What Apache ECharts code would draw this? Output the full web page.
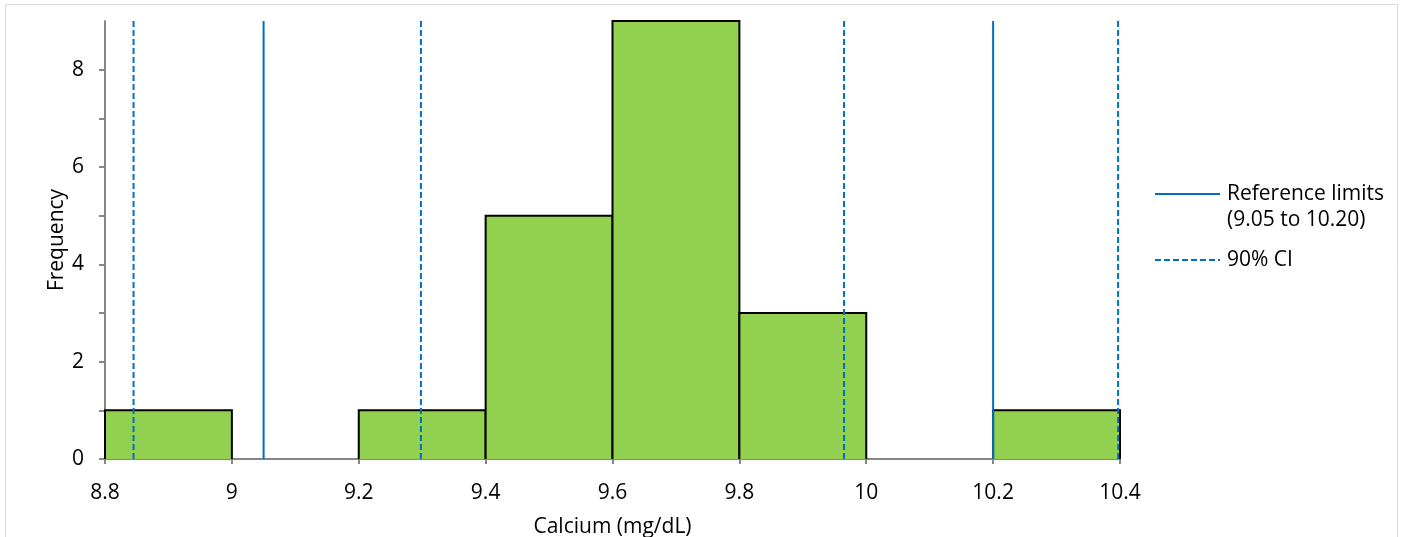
<!DOCTYPE html>
<html><head><meta charset="utf-8">
<script src="https://cdn.jsdelivr.net/npm/echarts@6/dist/echarts.min.js"></script>
<style>html,body{margin:0;padding:0;background:#fff}#c{width:1404px;height:537px}</style>
</head><body><div id="c"></div>
<script>
const binStarts = [8.8, 9.0, 9.2, 9.4, 9.6, 9.8, 10.0, 10.2];
const binWidth = 0.2;
const counts = [1, 0, 1, 5, 9, 3, 0, 1];
const refLimits = [9.05, 10.20];
const ciLimits = [8.845, 9.298, 9.965, 10.397];
const xTicks = [8.8, 9, 9.2, 9.4, 9.6, 9.8, 10, 10.2, 10.4];
const yTicks = [0, 2, 4, 6, 8];
const yMax = 9;
const refName = 'Reference limits (9.05 to 10.20)';
const ciName = '90% CI';

const FONT = '"Open Sans", sans-serif';
const FS = 21;
const blue = '#0070c0';
const axisGray = '#868686';

function vlines(xs) {
  const d = [];
  xs.forEach((x, i) => {
    if (i > 0) d.push([x, '-']);
    d.push([x, 0]); d.push([x, yMax]);
  });
  return d;
}

const chart = echarts.init(document.getElementById('c'), null, {renderer: 'canvas'});
chart.setOption({
  animation: false,
  backgroundColor: '#fff',
  graphic: [{type: 'rect', shape: {x: 5.5, y: 4.5, width: 1392, height: 540}, style: {fill: 'none', stroke: '#d9d9d9', lineWidth: 1}, silent: true, z: -1}],
  grid: {left: 105, right: 284, top: 21, bottom: 78, outerBoundsMode: 'none', containLabel: false},
  legend: {
    orient: 'vertical', left: 1149, top: 150, itemWidth: 65, itemHeight: 14, itemGap: 14,
    itemStyle: {opacity: 0},
    textStyle: {fontFamily: FONT, fontSize: FS, color: '#000', lineHeight: 26, padding: [0, 0, 0, 2]},
    formatter: function (name) {
      return name === refName ? ' \nReference limits\n(9.05 to 10.20)' : name;
    },
    data: [refName, ciName]
  },
  xAxis: {
    type: 'value', min: 8.8, max: 10.4, interval: 0.2,
    name: 'Calcium (mg/dL)', nameLocation: 'middle', nameGap: 58, nameMoveOverlap: false,
    nameTextStyle: {fontFamily: FONT, fontSize: FS, color: '#000'},
    axisLine: {lineStyle: {color: axisGray, width: 2}},
    axisTick: {show: true, length: 5, lineStyle: {color: axisGray, width: 2}},
    axisLabel: {fontFamily: FONT, fontSize: FS, color: '#000', margin: 24,
      customValues: xTicks, formatter: v => String(+v.toFixed(1))},
    splitLine: {show: false}
  },
  yAxis: {
    type: 'value', min: 0, max: yMax, interval: 2,
    name: 'Frequency', nameLocation: 'middle', nameGap: 37, nameRotate: 90, nameMoveOverlap: false,
    nameTextStyle: {fontFamily: FONT, fontSize: FS, color: '#000'},
    axisLine: {show: true, lineStyle: {color: axisGray, width: 2}},
    axisTick: {show: true, length: 6, customValues: [0,1,2,3,4,5,6,7,8], lineStyle: {color: axisGray, width: 2}},
    axisLabel: {fontFamily: FONT, fontSize: FS, color: '#000', margin: 21, customValues: yTicks},
    splitLine: {show: false}
  },
  series: [
    {
      type: 'custom', name: 'hist', z: 2,
      data: binStarts.map((s, i) => [s, s + binWidth, counts[i]]),
      renderItem: function (params, api) {
        const c = api.value(2);
        if (!c) return null;
        const p0 = api.coord([api.value(0), 0]);
        const p1 = api.coord([api.value(1), c]);
        return {
          type: 'polyline',
          shape: {points: [[p0[0], p0[1]], [p0[0], p1[1]], [p1[0], p1[1]], [p1[0], p0[1]]]},
          style: {fill: '#92d050', stroke: '#000', lineWidth: 2}
        };
      },
      encode: {x: [0, 1], y: 2}
    },
    {
      type: 'line', name: refName, z: 3,
      data: vlines(refLimits), symbol: 'none', connectNulls: false,
      lineStyle: {color: blue, width: 2, type: 'solid'}, itemStyle: {color: blue}
    },
    {
      type: 'line', name: ciName, z: 3,
      data: vlines(ciLimits), symbol: 'none', connectNulls: false,
      lineStyle: {color: blue, width: 2, type: [6, 3]}, itemStyle: {color: blue}
    }
  ]
});
</script></body></html>
